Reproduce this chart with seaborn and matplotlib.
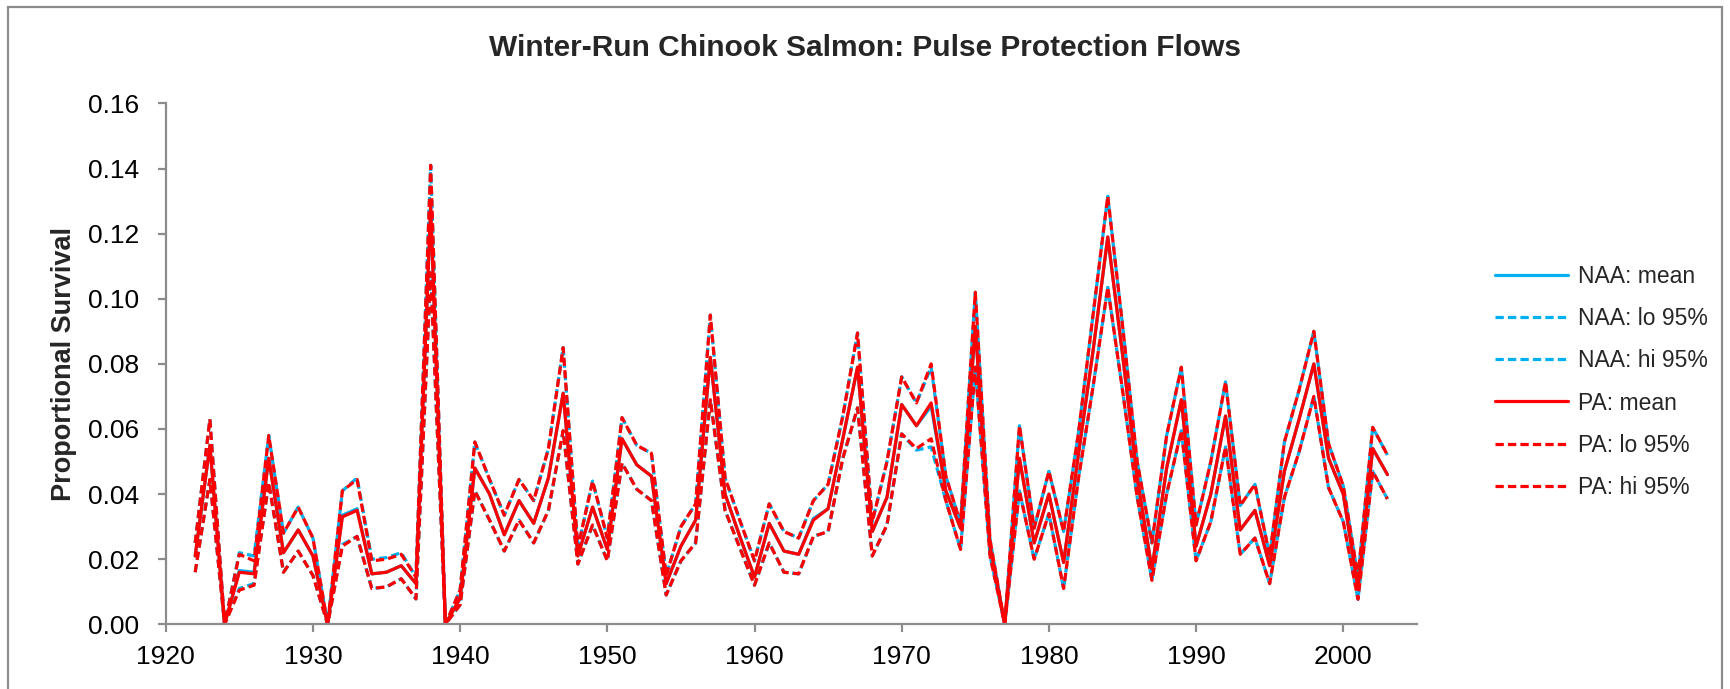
import matplotlib
matplotlib.use("Agg")
import matplotlib.pyplot as plt
import matplotlib.patches as mpatches
import numpy as np
import pandas as pd
import seaborn as sns

# ---- data -----------------------------------------------------------------
years = list(range(1922, 2004))

pa_mean = [0.021, 0.055, 0.0, 0.016, 0.0155, 0.051, 0.022, 0.029, 0.021, 0.0,
           0.033, 0.035, 0.0155, 0.016, 0.018, 0.0125, 0.128, 0.0, 0.008, 0.048,
           0.040, 0.0275, 0.038, 0.031, 0.045, 0.071, 0.021, 0.036, 0.023, 0.057,
           0.049, 0.0455, 0.0125, 0.024, 0.032, 0.082, 0.040, 0.027, 0.0145, 0.031,
           0.0225, 0.0215, 0.032, 0.0355, 0.057, 0.079, 0.0285, 0.039, 0.0675, 0.061,
           0.068, 0.041, 0.0295, 0.0915, 0.024, 0.0, 0.051, 0.025, 0.040, 0.019,
           0.052, 0.084, 0.119, 0.083, 0.045, 0.017, 0.048, 0.069, 0.024, 0.040,
           0.064, 0.029, 0.035, 0.018, 0.047, 0.063, 0.080, 0.051, 0.040, 0.011,
           0.054, 0.046]

pa_hi = [0.025, 0.063, 0.0, 0.0215, 0.0195, 0.058, 0.028, 0.036, 0.0265, 0.0,
         0.041, 0.0445, 0.0195, 0.020, 0.0215, 0.0145, 0.141, 0.0, 0.0105, 0.056,
         0.0445, 0.0335, 0.0445, 0.038, 0.054, 0.085, 0.0235, 0.044, 0.0265, 0.0635,
         0.055, 0.0525, 0.015, 0.030, 0.037, 0.095, 0.045, 0.032, 0.0195, 0.037,
         0.0285, 0.0265, 0.038, 0.043, 0.064, 0.0895, 0.0315, 0.050, 0.076, 0.068,
         0.080, 0.0455, 0.031, 0.102, 0.026, 0.0, 0.061, 0.0295, 0.047, 0.0285,
         0.0585, 0.095, 0.1315, 0.092, 0.050, 0.025, 0.058, 0.079, 0.0305, 0.050,
         0.0745, 0.0365, 0.043, 0.021, 0.056, 0.072, 0.090, 0.0555, 0.0425, 0.0145,
         0.0605, 0.052]

pa_lo = [0.016, 0.0445, 0.0, 0.0105, 0.012, 0.0435, 0.016, 0.0225, 0.015, 0.0,
         0.024, 0.027, 0.011, 0.0115, 0.014, 0.0078, 0.108, 0.0, 0.006, 0.041,
         0.032, 0.0225, 0.032, 0.025, 0.035, 0.0595, 0.0185, 0.0305, 0.0195, 0.0495,
         0.0415, 0.038, 0.009, 0.0195, 0.025, 0.069, 0.035, 0.0235, 0.012, 0.025,
         0.016, 0.0155, 0.027, 0.0285, 0.051, 0.0665, 0.021, 0.0305, 0.0585, 0.054,
         0.057, 0.038, 0.023, 0.079, 0.021, 0.0, 0.041, 0.020, 0.034, 0.011,
         0.0445, 0.073, 0.1035, 0.072, 0.039, 0.0135, 0.040, 0.0595, 0.0195, 0.0315,
         0.0545, 0.0215, 0.0265, 0.0125, 0.039, 0.053, 0.070, 0.042, 0.0315, 0.0077,
         0.047, 0.0385]

naa_mean = [0.021, 0.055, 0.0, 0.0165, 0.016, 0.051, 0.022, 0.029, 0.021, 0.0,
            0.0335, 0.0355, 0.0155, 0.016, 0.018, 0.0125, 0.128, 0.0, 0.008, 0.048,
            0.040, 0.0275, 0.038, 0.031, 0.045, 0.071, 0.021, 0.036, 0.023, 0.057,
            0.049, 0.0455, 0.0125, 0.024, 0.032, 0.082, 0.040, 0.027, 0.0145, 0.031,
            0.0225, 0.0215, 0.0325, 0.0355, 0.057, 0.079, 0.0285, 0.039, 0.0675, 0.061,
            0.067, 0.041, 0.0295, 0.0915, 0.024, 0.0, 0.051, 0.025, 0.040, 0.019,
            0.052, 0.084, 0.119, 0.083, 0.045, 0.017, 0.048, 0.069, 0.024, 0.040,
            0.064, 0.029, 0.035, 0.018, 0.047, 0.063, 0.080, 0.051, 0.040, 0.011,
            0.054, 0.046]

naa_hi = [0.025, 0.063, 0.0, 0.022, 0.021, 0.058, 0.028, 0.036, 0.0265, 0.0,
          0.041, 0.045, 0.020, 0.0205, 0.022, 0.0145, 0.141, 0.0, 0.0105, 0.056,
          0.0445, 0.0335, 0.0445, 0.038, 0.054, 0.085, 0.0235, 0.044, 0.0265, 0.0635,
          0.055, 0.0525, 0.015, 0.030, 0.037, 0.095, 0.045, 0.032, 0.0195, 0.037,
          0.0285, 0.0265, 0.038, 0.043, 0.064, 0.0895, 0.0315, 0.050, 0.076, 0.068,
          0.079, 0.0455, 0.031, 0.102, 0.026, 0.0, 0.061, 0.0295, 0.047, 0.0285,
          0.0585, 0.095, 0.1315, 0.092, 0.050, 0.025, 0.058, 0.079, 0.0305, 0.050,
          0.0745, 0.0365, 0.043, 0.021, 0.056, 0.072, 0.090, 0.0555, 0.0425, 0.0145,
          0.0605, 0.052]

naa_lo = [0.016, 0.0445, 0.0, 0.011, 0.0125, 0.0435, 0.016, 0.0225, 0.015, 0.0,
          0.0245, 0.027, 0.011, 0.0115, 0.014, 0.0078, 0.108, 0.0, 0.006, 0.041,
          0.032, 0.0225, 0.032, 0.025, 0.035, 0.0595, 0.0185, 0.0305, 0.0195, 0.0495,
          0.0415, 0.038, 0.009, 0.0195, 0.025, 0.069, 0.035, 0.0235, 0.012, 0.025,
          0.016, 0.0155, 0.027, 0.0285, 0.051, 0.0665, 0.021, 0.0305, 0.0585, 0.0535,
          0.0545, 0.038, 0.023, 0.079, 0.021, 0.0, 0.041, 0.020, 0.034, 0.011,
          0.0445, 0.073, 0.1035, 0.072, 0.039, 0.0135, 0.040, 0.0595, 0.0195, 0.0315,
          0.0545, 0.0215, 0.0265, 0.0125, 0.039, 0.053, 0.070, 0.042, 0.0315, 0.0077,
          0.047, 0.0385]

series_labels = ["NAA: mean", "NAA: lo 95%", "NAA: hi 95%",
                 "PA: mean", "PA: lo 95%", "PA: hi 95%"]

x_ticks = [1920, 1930, 1940, 1950, 1960, 1970, 1980, 1990, 2000]
y_ticks = [0.00, 0.02, 0.04, 0.06, 0.08, 0.10, 0.12, 0.14, 0.16]

# ---- style ----------------------------------------------------------------
sns.set_theme(style="white")
plt.rcParams["font.family"] = ["Liberation Sans", "DejaVu Sans"]

BLUE = "#00B0F0"
RED = "#FF0000"
AXIS_GREY = "#8C8C8C"
DASH = (0, (2.6, 1.3))

fig = plt.figure(figsize=(17.3, 6.89), dpi=100)
ax = fig.add_axes([0.0958, 0.0939, 0.7232, 0.7559])

series = [
    (naa_mean, BLUE, "-"),
    (naa_lo, BLUE, DASH),
    (naa_hi, BLUE, DASH),
    (pa_mean, RED, "-"),
    (pa_lo, RED, DASH),
    (pa_hi, RED, DASH),
]

for (vals, color, ls), label in zip(series, series_labels):
    df = pd.DataFrame({"year": years, "survival": vals})
    sns.lineplot(data=df, x="year", y="survival", ax=ax, color=color,
                 linestyle=ls, linewidth=2.3, label=label)

ax.set_xlim(1920, 2005)
ax.set_ylim(0, 0.16)
ax.set_xticks(x_ticks)
ax.set_xticklabels([str(t) for t in x_ticks])
ax.set_yticks(y_ticks)
ax.set_yticklabels([f"{t:.2f}" for t in y_ticks])

ax.set_xlabel("")
ax.set_ylabel("Proportional Survival", fontsize=19.5, fontweight="bold", labelpad=8)

for side in ("top", "right"):
    ax.spines[side].set_visible(False)
for side in ("left", "bottom"):
    ax.spines[side].set_color(AXIS_GREY)
    ax.spines[side].set_linewidth(1.6)

ax.tick_params(axis="both", which="major", direction="out", length=6,
               width=1.6, color=AXIS_GREY, labelsize=19, labelcolor="black",
               left=True, bottom=True)
ax.tick_params(axis="y", pad=13)
ax.tick_params(axis="x", pad=9)

handles, labels = ax.get_legend_handles_labels()
ax.legend(handles, labels, loc="center left",
          bbox_to_anchor=(1495 / 1730, 1 - 382 / 689),
          bbox_transform=fig.transFigure, frameon=False, fontsize=16.5,
          handlelength=3.2, handletextpad=0.4, labelspacing=0.83,
          borderpad=0, borderaxespad=0)

fig.text(0.5, 1 - 48 / 689, "Winter-Run Chinook Salmon: Pulse Protection Flows",
         ha="center", va="center", fontsize=21.5, fontweight="bold")

# outer chart frame
frame = mpatches.Rectangle((8 / 1730, -0.02), (1722 - 8) / 1730, 1.02 - 7 / 689,
                           transform=fig.transFigure, fill=False,
                           edgecolor=AXIS_GREY, linewidth=1.6, clip_on=False)
fig.patches.append(frame)

fig.savefig("out.png", dpi=100)
